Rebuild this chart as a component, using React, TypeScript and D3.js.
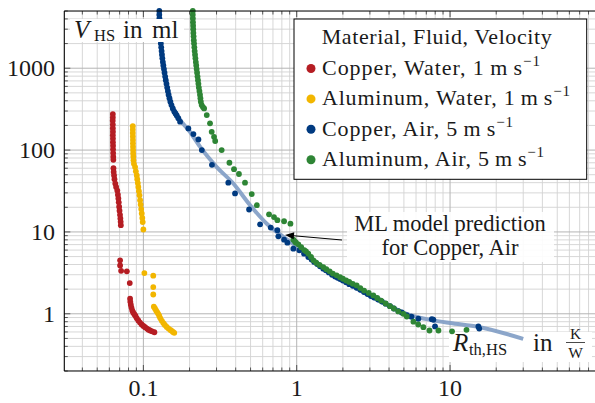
import * as d3 from "d3";

type Pt = [number, number];

// Copper, Water, 1 m/s
const cuWater: Pt[] = [
  [0.0632, 275], [0.0632, 250], [0.0631, 228], [0.0632, 205], [0.0632, 185], [0.0633, 168],
  [0.0632, 152], [0.0633, 138], [0.0633, 125], [0.0634, 113], [0.0634, 102], [0.0635, 92],
  [0.0636, 83], [0.0637, 76], [0.0638, 60], [0.064, 54], [0.0644, 49], [0.0648, 44],
  [0.0656, 39], [0.0664, 35.5], [0.0676, 32], [0.0682, 28.5], [0.0687, 25.6], [0.0691, 23],
  [0.0695, 20.3], [0.0699, 18.2], [0.0704, 16.2], [0.0708, 14.6], [0.0711, 13.3], [0.0713, 12.1],
  [0.0705, 4.5], [0.0705, 3.9], [0.0716, 3.35], [0.078, 3.3], [0.0815, 2.37],
  [0.0819, 1.53], [0.0822, 1.4], [0.0828, 1.29], [0.0836, 1.19], [0.0846, 1.1], [0.0858, 1.04],
  [0.0873, 0.99], [0.0889, 0.94], [0.0906, 0.88], [0.0927, 0.83], [0.095, 0.78], [0.0975, 0.74],
  [0.1, 0.71], [0.1026, 0.686], [0.1055, 0.66], [0.108, 0.64], [0.1106, 0.625], [0.114, 0.61],
  [0.118, 0.595],
];

// Aluminum, Water, 1 m/s
const alWater: Pt[] = [
  [0.0853, 196], [0.0853, 178], [0.0853, 162], [0.0854, 147], [0.0855, 133], [0.0855, 121],
  [0.0856, 110], [0.0857, 100], [0.0858, 91], [0.086, 83], [0.0862, 75], [0.0868, 68],
  [0.0883, 62], [0.0893, 55], [0.0906, 49], [0.0912, 44], [0.092, 39.5], [0.0927, 35.5],
  [0.0935, 31.5], [0.0943, 28], [0.0952, 24.4], [0.096, 21.6], [0.0968, 19], [0.0976, 16.8],
  [0.0984, 14.8], [0.099, 13.2], [0.1, 10.7],
  [0.1015, 3.14], [0.116, 2.92], [0.116, 2.12], [0.116, 1.72],
  [0.117, 1.22], [0.119, 1.16], [0.121, 1.1], [0.123, 1.05], [0.125, 1.0], [0.127, 0.94],
  [0.129, 0.88], [0.132, 0.82], [0.135, 0.77], [0.138, 0.73], [0.142, 0.69], [0.146, 0.66],
  [0.15, 0.635], [0.153, 0.62], [0.156, 0.6], [0.159, 0.585],
];

// Copper, Air, 5 m/s
const cuAir: Pt[] = [
  [0.127, 5000], [0.127, 4500], [0.1272, 4050], [0.1275, 3650], [0.1278, 3300], [0.128, 3000],
  [0.1285, 2700], [0.129, 2450], [0.1295, 2200], [0.13, 2000], [0.1307, 1800], [0.1315, 1620],
  [0.1322, 1460], [0.133, 1320], [0.134, 1190], [0.135, 1080], [0.1362, 975], [0.1374, 880],
  [0.1387, 790], [0.14, 715], [0.1415, 645], [0.143, 580], [0.1445, 525], [0.146, 475],
  [0.148, 430], [0.15, 390], [0.1525, 355], [0.1555, 323], [0.159, 295], [0.162, 280],
  [0.165, 265], [0.169, 245], [0.1735, 222],
  [0.1965, 184], [0.212, 157], [0.2285, 135], [0.2405, 100], [0.28, 66], [0.358, 40],
  [0.396, 29.5], [0.489, 18.8], [0.577, 12.4], [0.677, 11.3], [0.748, 10.5], [0.759, 8.84],
  [0.827, 8.05], [0.869, 7.4], [0.951, 6.25], [1.04, 5.96], [1.116, 5.43], [1.19, 4.93],
  [1.25, 4.6], [1.3, 4.3], [1.36, 4.05], [1.42, 3.8], [1.49, 3.56], [1.55, 3.4], [1.62, 3.2],
  [1.7, 3.0], [1.78, 2.85], [1.85, 2.75], [1.92, 2.66], [2.0, 2.55], [2.1, 2.42], [2.2, 2.3],
  [2.32, 2.2], [2.46, 2.08], [2.6, 1.96], [2.75, 1.84], [2.9, 1.74], [3.05, 1.65], [3.2, 1.58],
  [3.4, 1.49], [3.6, 1.41], [3.8, 1.33], [4.06, 1.24], [4.3, 1.16], [4.6, 1.08], [4.84, 1.04],
  [5.22, 0.96], [5.6, 0.92], [6.21, 0.87], [7.6, 0.86], [7.78, 0.845], [7.98, 0.7],
  [15.3, 0.7], [15.5, 0.66],
];

// Aluminum, Air, 5 m/s
const alAir: Pt[] = [
  [0.21, 5000], [0.21, 4500], [0.2102, 4050], [0.2105, 3650], [0.211, 3300], [0.2113, 3000],
  [0.2118, 2700], [0.2125, 2450], [0.2132, 2200], [0.214, 2000], [0.215, 1800], [0.216, 1620],
  [0.2172, 1460], [0.2185, 1320], [0.2198, 1190], [0.2212, 1080], [0.2225, 975], [0.224, 880],
  [0.2255, 790], [0.227, 715], [0.2285, 645], [0.23, 580], [0.232, 525], [0.234, 475],
  [0.2355, 430], [0.237, 390], [0.24, 355], [0.2445, 335], [0.249, 323],
  [0.259, 268], [0.272, 212], [0.279, 167], [0.289, 145], [0.294, 129], [0.324, 100],
  [0.364, 70], [0.39, 58.5], [0.42, 51], [0.46, 40], [0.509, 29], [0.549, 21.2],
  [0.66, 16.4], [0.711, 15.2], [0.748, 13.9], [0.827, 13.5], [0.91, 12.6],
  [0.951, 8.05], [0.975, 7.6], [0.99, 7.4], [1.025, 7.06], [1.07, 6.5], [1.12, 6.0], [1.15, 5.8],
  [1.19, 5.43], [1.24, 4.95], [1.285, 4.5], [1.34, 4.2], [1.41, 3.95], [1.49, 3.72], [1.56, 3.5],
  [1.64, 3.3], [1.72, 3.1], [1.82, 2.95], [1.917, 2.8], [2.0, 2.68], [2.1, 2.55], [2.2, 2.45],
  [2.32, 2.32], [2.46, 2.22], [2.6, 2.06], [2.75, 1.92], [2.95, 1.8], [3.16, 1.675], [3.35, 1.56],
  [3.55, 1.45], [3.8, 1.34], [4.06, 1.24], [4.3, 1.16], [4.6, 1.07], [4.96, 1.0], [5.22, 0.927],
  [5.77, 0.8], [6.2, 0.74], [6.7, 0.686], [7.34, 0.625], [8.4, 0.625], [10.3, 0.61], [12.8, 0.637],
];

// ML model prediction for Copper, Air
const mlPrediction: Pt[] = [
  [0.1435, 517], [0.15, 390], [0.165, 268], [0.2, 170], [0.234, 110], [0.301, 62], [0.386, 39],
  [0.497, 21.2], [0.638, 12.6], [0.818, 8.7], [1.05, 6.2], [1.5, 3.6], [2, 2.6], [3, 1.65],
  [4, 1.25], [5.2, 1.0], [7.8, 0.83], [10, 0.77], [15.3, 0.69], [30, 0.494],
];

const legendLabels = ["Copper, Water, ", "Aluminum, Water, ", "Copper, Air, ", "Aluminum, Air, "];
const legendVelocity = ["1", "1", "5", "5"];
const colors = ["#b51d23", "#f2b600", "#003a80", "#2e8535"];
const series = [cuWater, alWater, cuAir, alAir];

const xTickLabels = [0.1, 1, 10];
const yTickLabels = [1, 10, 100, 1000];

const serif = "'Liberation Serif', 'DejaVu Serif', serif";
const ink = "#1a1a1a";

export default function App() {
  const width = 595;
  const height = 403;
  const left = 64.3;
  const right = 603.4;
  const top = 11;
  const bottom = 371;

  const x = d3.scaleLog().domain([0.0305, 100]).range([left, right]);
  const y = d3.scaleLog().domain([0.2, 5000]).range([bottom, top]);

  const isMajor = (v: number) => Math.abs(Math.log10(v) - Math.round(Math.log10(v))) < 1e-6;
  const xGrid = x.ticks();
  const yGrid = y.ticks();

  const line = d3
    .line<Pt>()
    .x((d) => x(d[0]))
    .y((d) => y(d[1]))
    .curve(d3.curveMonotoneX);

  // arrow of the annotation
  const a0 = [342, 240];
  const a1 = [285, 235];
  const dx = a1[0] - a0[0];
  const dy = a1[1] - a0[1];
  const len = Math.hypot(dx, dy);
  const ux = dx / len;
  const uy = dy / len;
  const headL = 9;
  const headW = 3.5;
  const bx = a1[0] - ux * headL;
  const by = a1[1] - uy * headL;
  const head = `${a1[0]},${a1[1]} ${bx - uy * headW},${by + ux * headW} ${bx + uy * headW},${by - ux * headW}`;

  // measured widths of the legend rows in the reference
  const legendWidths = [218, 248, 191, 222];

  return (
    <>
      <style>{`body{margin:0}`}</style>
      <svg width={width} height={height} style={{ display: "block", background: "#fff" }}>
        <defs>
          <clipPath id="plot-area">
            <rect x={left} y={top} width={right - left} height={bottom - top} />
          </clipPath>
        </defs>

        {/* grid */}
        <g clipPath="url(#plot-area)">
          {xGrid.filter((v) => !isMajor(v)).map((v, i) => (
            <line key={"xm" + i} x1={x(v)} x2={x(v)} y1={top} y2={bottom} stroke="#d3d3d3" strokeWidth={0.9} />
          ))}
          {yGrid.filter((v) => !isMajor(v)).map((v, i) => (
            <line key={"ym" + i} x1={left} x2={right} y1={y(v)} y2={y(v)} stroke="#d3d3d3" strokeWidth={0.9} />
          ))}
          {xGrid.filter(isMajor).map((v, i) => (
            <line key={"xM" + i} x1={x(v)} x2={x(v)} y1={top} y2={bottom} stroke="#b4b4b4" strokeWidth={1} />
          ))}
          {yGrid.filter(isMajor).map((v, i) => (
            <line key={"yM" + i} x1={left} x2={right} y1={y(v)} y2={y(v)} stroke="#b4b4b4" strokeWidth={1} />
          ))}
        </g>

        {/* ticks */}
        <g stroke="#333" strokeWidth={0.8}>
          {xGrid.map((v, i) => {
            const t = isMajor(v) ? 6 : 3.5;
            return (
              <g key={"xt" + i}>
                <line x1={x(v)} x2={x(v)} y1={bottom} y2={bottom - t} />
                <line x1={x(v)} x2={x(v)} y1={top} y2={top + t} />
              </g>
            );
          })}
          {yGrid.map((v, i) => {
            const t = isMajor(v) ? 6 : 3.5;
            return <line key={"yt" + i} x1={left} x2={left + t} y1={y(v)} y2={y(v)} />;
          })}
        </g>

        {/* x label box (under data) */}
        <rect x={449} y={332} width={143} height={30} fill="#fff" />

        {/* ML prediction line */}
        <path d={line(mlPrediction) || ""} fill="none" stroke="#7f9cc4" strokeWidth={4} strokeOpacity={0.9} />

        {/* data points */}
        {series.map((s, si) => (
          <g key={"s" + si} fill={colors[si]}>
            {s.map((d, i) => (
              <circle key={i} cx={x(d[0])} cy={y(d[1])} r={2.9} />
            ))}
          </g>
        ))}

        {/* axes lines */}
        <line x1={left} x2={right} y1={bottom} y2={bottom} stroke="#000" strokeWidth={1.1} />
        <line x1={left} x2={right} y1={top} y2={top} stroke="#000" strokeWidth={1.1} />
        <line x1={left} x2={left} y1={top} y2={bottom} stroke="#000" strokeWidth={1.1} />

        {/* tick labels */}
        <g fontFamily={serif} fontSize={24} fill={ink}>
          {xTickLabels.map((v, i) => (
            <text key={"xl" + i} x={x(v)} y={396} textAnchor="middle">
              {String(v)}
            </text>
          ))}
          {yTickLabels.map((v, i) => (
            <text key={"yl" + i} x={55} y={y(v) + 8} textAnchor="end">
              {String(v)}
            </text>
          ))}
        </g>

        {/* y axis label */}
        <rect x={70} y={19} width={114} height={23} fill="#fff" />
        <g fontFamily={serif} fontSize={25} fill={ink}>
          <text x={74} y={37.5} fontStyle="italic">V</text>
          <text x={94} y={41} fontSize={16.5}>HS</text>
          <text x={123} y={37.5}>in</text>
          <text x={152} y={37.5}>ml</text>
        </g>

        {/* x axis label */}
        <g fontFamily={serif} fontSize={25} fill={ink}>
          <text x={453} y={351} fontStyle="italic">R</text>
          <text x={469} y={355} fontSize={16.5}>th,HS</text>
          <text x={533} y={351}>in</text>
        </g>
        <g fontFamily={serif} fontSize={15.5} fill={ink} textAnchor="middle">
          <text x={575.5} y={339}>K</text>
          <line x1={566} x2={585} y1={342.5} y2={342.5} stroke={ink} strokeWidth={0.8} />
          <text x={575.5} y={357.5}>W</text>
        </g>

        {/* annotation */}
        <rect x={347} y={212} width={207} height={50} fill="#fff" fillOpacity={0.9} />
        <g fontFamily={serif} fontSize={22.5} fill={ink} textAnchor="middle">
          <text x={450} y={231}>ML model prediction</text>
          <text x={450} y={255}>for Copper, Air</text>
        </g>
        <line x1={a0[0]} y1={a0[1]} x2={bx} y2={by} stroke="#000" strokeWidth={1} />
        <polygon points={head} fill="#000" />

        {/* legend */}
        <rect x={294} y={19} width={292.7} height={160.3} fill="#fff" stroke="#000" strokeWidth={1} />
        <text x={321.7} y={43.5} fontFamily={serif} fontSize={22} fill={ink} textLength={230} lengthAdjust="spacing">
          Material, Fluid, Velocity
        </text>
        {legendLabels.map((label, i) => (
          <g key={"lg" + i}>
            <circle cx={311} cy={68.5 + i * 30.4} r={4.5} fill={colors[i]} />
            <text
              x={322}
              y={75 + i * 30.4}
              fontFamily={serif}
              fontSize={22}
              fill={ink}
              textLength={legendWidths[i]}
              lengthAdjust="spacing"
            >
              {label}
              {legendVelocity[i]}
              {"\u2009m\u2009s"}
              <tspan fontSize={15} dy={-9}>{"\u22121"}</tspan>
            </text>
          </g>
        ))}
      </svg>
    </>
  );
}
